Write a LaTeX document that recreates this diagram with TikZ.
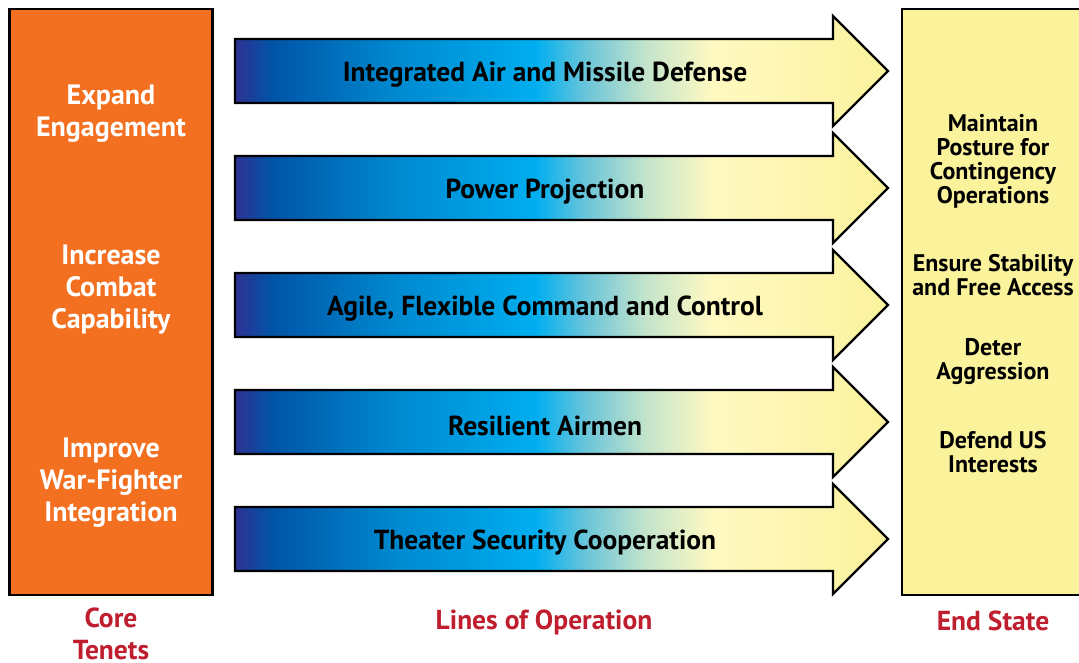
\documentclass[tikz,border=0pt]{standalone}
\usepackage{fontspec}
\setmainfont{PT Sans}
\usetikzlibrary{positioning}

\definecolor{tenetorange}{HTML}{F37021}
\definecolor{endyellow}{HTML}{FBF29C}
\definecolor{labelred}{HTML}{BE1E2D}
\definecolor{lopurple}{HTML}{2E3192}
\definecolor{lodarkblue}{HTML}{0054A6}
\definecolor{lomidblue}{HTML}{0088CF}
\definecolor{locyan}{HTML}{00AEEF}
\definecolor{loteal}{HTML}{6EC6D9}
\definecolor{lomint}{HTML}{C4E4CB}
\definecolor{lopale}{HTML}{FFF9C2}
\definecolor{loyellow}{HTML}{FBF29C}

\pgfdeclarehorizontalshading{loshade}{100bp}{color(0bp)=(lopurple); color(25bp)=(lopurple);
  color(27.8bp)=(lodarkblue); color(37bp)=(lomidblue); color(48bp)=(locyan);
  color(52bp)=(loteal); color(56.5bp)=(lomint); color(61.5bp)=(lopale);
  color(75bp)=(loyellow); color(100bp)=(loyellow)}

\begin{document}
\begin{tikzpicture}[x=1pt,y=-1pt,line width=2.4pt,line join=miter]
 	\def \bodyht{32}
 	\def \headht{55}
 	\tikzstyle{core-box}=[rectangle,draw=black,fill=tenetorange,minimum width=203pt,minimum height=586pt,inner sep=0pt]
 	\tikzstyle{end-box}=[rectangle,draw=black,fill=endyellow,minimum width=198pt,minimum height=586pt,inner sep=0pt]
 	\tikzstyle{lo-arrow}=[draw=black,shading=loshade]
 	\tikzstyle{lo-text}=[font=\fontsize{27.5}{30}\selectfont\bfseries,text=black]
 	\tikzstyle{tenet}=[font=\fontsize{28}{32}\selectfont\bfseries,text=white,align=center]
 	\tikzstyle{goal}=[font=\fontsize{24}{24}\selectfont\bfseries,text=black,align=center]
 	\tikzstyle{caption}=[font=\fontsize{27.5}{32}\selectfont\bfseries,text=labelred,align=center]
 	\useasboundingbox (0,0) rectangle (1079,663);

 	% core tenets
 	\node[core-box] (core) at (111,302) {};
 	\node[tenet] (expand)   at (111,114) {Expand\\Engagement};
 	\node[tenet] (increase) at (111,289.5) {Increase\\Combat\\Capability};
 	\node[tenet] (improve)  at (111,482.5) {Improve\\War-Fighter\\Integration};

 	% end state
 	\node[end-box] (end) at (1001,302) {};
 	\node[goal] (maintain) at (993,161) {Maintain\\Posture for\\Contingency\\Operations};
 	\node[goal] (ensure)   at (993,275) {Ensure Stability\\and Free Access};
 	\node[goal] (deter)    at (993,362) {Deter\\Aggression};
 	\node[goal] (defend)   at (993,452) {Defend US\\Interests};

 	% lines of operation
 	\foreach \y/\name/\txt in {71/iamd/Integrated Air and Missile Defense,
 		188/pp/Power Projection,
 		305/ctwo/{Agile, Flexible Command and Control},
 		422/ra/Resilient Airmen,
 		539/tsc/Theater Security Cooperation}{
 		\path[lo-arrow] (235,\y-\bodyht) -- (833,\y-\bodyht) -- (833,\y-\headht)
 			-- (888,\y) -- (833,\y+\headht) -- (833,\y+\bodyht) -- (235,\y+\bodyht) -- cycle;
 		\node[lo-text] (\name) at (545,\y+3.5) {\txt};
 	}

 	% captions
 	\node[caption] (core-label) at (111,634) {Core\\Tenets};
 	\node[caption] (lo-label)   at (544,622) {Lines of Operation};
 	\node[caption] (end-label)  at (993,621) {End State};
\end{tikzpicture}
\end{document}
